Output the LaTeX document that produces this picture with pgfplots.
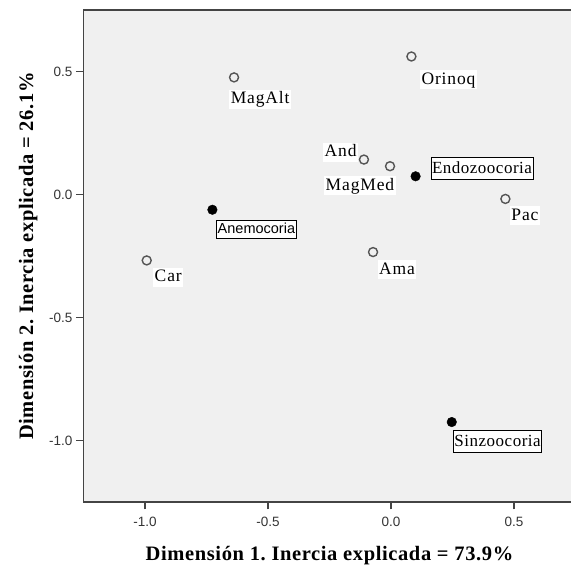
\documentclass[border=0pt]{standalone}
\usepackage{fontspec}
\setmainfont{Liberation Serif}
\setsansfont{Liberation Sans}
\newfontfamily\etiq[LetterSpace=5]{Liberation Serif}
\newfontfamily\caja[LetterSpace=3]{Liberation Serif}
\newfontfamily\titulo[LetterSpace=3]{Liberation Serif}
\usepackage{pgfplots}
\usepackage{pgfplotstable}
\pgfplotsset{compat=1.18}
\definecolor{panel}{HTML}{F0F0F0}
\definecolor{marco}{HTML}{444444}
\definecolor{punto}{HTML}{555555}
\frenchspacing

% filas: coordenadas de las filas (regiones), desplazamiento de la etiqueta en pt
\pgfplotstableread{
x      y      dx     dy     lab
-0.638  0.476  -5.5  -21.6  MagAlt
-0.993 -0.268   5.8  -16.7  Car
 0.083  0.561   7.9  -23.3  Orinoq
-0.110  0.142 -41.5    7.3  And
-0.004  0.115 -66.5  -19.3  MagMed
 0.465 -0.018   3.9  -16.7  Pac
-0.073 -0.234   3.8  -17.6  Ama
}\filas

% columnas: sindromes de dispersion
\pgfplotstableread{
x      y      dx     dy     lab
 0.100  0.074  15.0    7.7  Endozoocoria
 0.247 -0.925   1.3  -19.5  Sinzoocoria
}\columnas

\pgfplotstableread{
x      y      dx     dy     lab
-0.726 -0.062   3.4  -19.9  Anemocoria
}\anemo

\begin{document}
\begin{tikzpicture}[x=1pt,y=1pt]
\useasboundingbox (0,0) rectangle (571,570);
\begin{axis}[
  at={(83.5pt,68pt)}, anchor=south west,
  scale only axis, width=492pt, height=492pt,
  xmin=-1.25, xmax=0.75, ymin=-1.25, ymax=0.75,
  axis background/.style={fill=panel},
  axis line style={marco, line width=1.5pt},
  xtick={-1,-0.5,0,0.5}, ytick={-1,-0.5,0,0.5},
  xtick pos=bottom, ytick pos=left,
  tick align=outside, major tick length=7.5pt,
  tick style={marco, line width=1.2pt},
  tick label style={font=\sffamily\fontsize{13.5}{15}\selectfont, text=black!80},
  xticklabel style={yshift=-4pt},
  /pgf/number format/.cd, fixed, fixed zerofill, precision=1, assume math mode=true,
  /pgfplots/.cd,
  every axis x label/.style={at={(axis description cs:0.5,-0.1179)}, anchor=base},
  every axis y label/.style={at={(axis description cs:-0.1026,0.5)}, rotate=90, anchor=base},
  label style={font=\titulo\bfseries\fontsize{20.5}{24}\selectfont},
  xlabel={Dimensión 1. Inercia explicada = 73.9\%},
  ylabel={Dimensión 2. Inercia explicada = 26.1\%},
  clip=false,
  point meta=explicit symbolic,
  visualization depends on={\thisrow{dx} \as \ldx},
  visualization depends on={\thisrow{dy} \as \ldy},
  nodes near coords,
  nodes near coords style={anchor=west, xshift=\ldx, yshift=\ldy,
    inner sep=1.5pt, text height=12.5pt, text depth=3.5pt, fill=white},
]
\addplot[only marks, mark=*, mark size=4.5pt,
  mark options={draw=punto, fill=panel, line width=1.4pt},
  nodes near coords style={font=\etiq\fontsize{17.5}{20}\selectfont}]
  table[x=x, y=y, meta=lab] {\filas};
\addplot[only marks, mark=*, mark size=4.8pt, mark options={draw=black, fill=black},
  nodes near coords style={font=\caja\fontsize{17}{20}\selectfont, draw=black,
    line width=0.8pt, inner xsep=1pt, text height=14pt, text depth=4.5pt}]
  table[x=x, y=y, meta=lab] {\columnas};
\addplot[only marks, mark=*, mark size=4.8pt, mark options={draw=black, fill=black},
  nodes near coords style={font=\sffamily\fontsize{14.5}{17}\selectfont, draw=black,
    line width=0.8pt, text height=12pt, text depth=3.5pt}]
  table[x=x, y=y, meta=lab] {\anemo};
\end{axis}
\end{tikzpicture}
\end{document}
